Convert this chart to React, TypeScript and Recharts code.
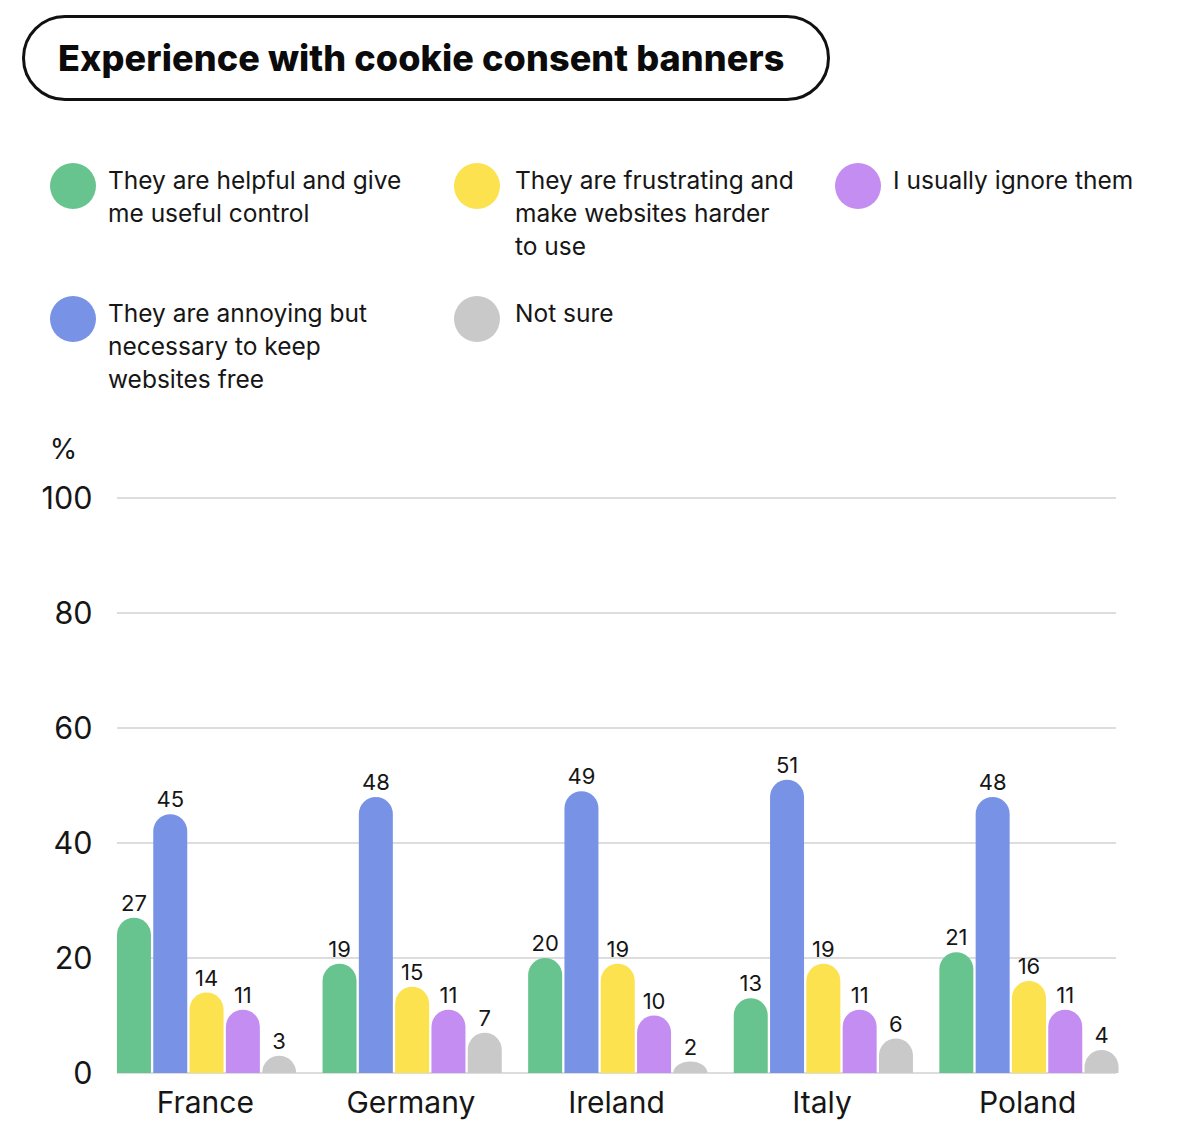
import { BarChart, Bar, XAxis, YAxis, CartesianGrid, Legend, LabelList } from "recharts";

const countries = ["France", "Germany", "Ireland", "Italy", "Poland"];

const helpful = [27, 19, 20, 13, 21];
const necessary = [45, 48, 49, 51, 48];
const frustrating = [14, 15, 19, 19, 16];
const ignore = [11, 11, 10, 11, 11];
const notSure = [3, 7, 2, 6, 4];

const yTicks = [0, 20, 40, 60, 80, 100];

const series = [
  { key: "helpful", label: "They are helpful and give\nme useful control", color: "#68c48e", values: helpful },
  { key: "necessary", label: "They are annoying but\nnecessary to keep\nwebsites free", color: "#7892e6", values: necessary },
  { key: "frustrating", label: "They are frustrating and\nmake websites harder\nto use", color: "#fbe24e", values: frustrating },
  { key: "ignore", label: "I usually ignore them", color: "#c38df1", values: ignore },
  { key: "notSure", label: "Not sure", color: "#c9c9c9", values: notSure },
];

// legend reads down each column (two rows)
const legendOrder = ["helpful", "necessary", "frustrating", "notSure", "ignore"];

const data = countries.map((country, i) => {
  const row: Record<string, string | number> = { country };
  series.forEach((s) => {
    row[s.key] = s.values[i];
  });
  return row;
});

const FONT = "Inter, 'Noto Sans', sans-serif";
const INK = "#161616";

const columnWidths = [404, 381, 330];

function renderLegend(props: any) {
  const payload = [...(props.payload || [])].sort(
    (a: any, b: any) => legendOrder.indexOf(a.dataKey) - legendOrder.indexOf(b.dataKey)
  );
  return (
    <div
      style={{
        display: "grid",
        gridAutoFlow: "column",
        gridTemplateRows: "133px 120px",
        gridTemplateColumns: columnWidths.map((w) => `${w}px`).join(" "),
        fontFamily: FONT,
      }}
    >
      {payload.map((entry: any, i: number) => (
        <div key={entry.dataKey} style={{ display: "flex", alignItems: "flex-start" }}>
          <span
            style={{
              width: 46,
              height: 46,
              borderRadius: "50%",
              background: entry.color,
              flex: "none",
            }}
          />
          <span
            style={{
              marginLeft: i === 2 || i === 3 ? 15 : 12,
              fontSize: 24.5,
              lineHeight: "33px",
              color: INK,
              whiteSpace: "pre",
              marginTop: 1,
            }}
          >
            {entry.value}
          </span>
        </div>
      ))}
    </div>
  );
}

function insetGridLine(props: any) {
  const { x1, x2, y1, y2, key } = props;
  return (
    <line
      key={key}
      x1={x1 + 14.5}
      x2={x2 - 14.5}
      y1={y1}
      y2={y2}
      stroke="#d2d2d2"
      strokeWidth={1.3}
    />
  );
}

// rounded cap; squashes into a dome when the bar is shorter than half its width
function PillBar(props: any) {
  const { x, y, width, height, fill } = props;
  if (!height || height <= 0) return null;
  const r = width / 2;
  const ry = Math.min(r, height);
  const d = `M${x},${y + height} L${x},${y + ry} A${r},${ry} 0 0 1 ${x + width},${y + ry} L${x + width},${y + height} Z`;
  return <path d={d} fill={fill} />;
}

export default function App() {
  return (
    <div style={{ position: "absolute", left: 0, top: 0, width: 1200, height: 1148, background: "#fff" }}>
      <div
        style={{
          position: "absolute",
          left: 22,
          top: 15,
          width: 808,
          height: 86,
          boxSizing: "border-box",
          border: "3px solid #111",
          borderRadius: 44,
          paddingLeft: 33,
          display: "flex",
          alignItems: "center",
          fontFamily: FONT,
          fontWeight: 800,
          fontSize: 36,
          letterSpacing: 0.1,
          color: "#0b0b0b",
        }}
      >
        Experience with cookie consent banners
      </div>
      <BarChart
        width={1200}
        height={1148}
        data={data}
        margin={{ top: 498, right: 69.5, bottom: 15, left: 42.5 }}
        barCategoryGap={14.45}
        barGap={2.3}
      >
        <CartesianGrid vertical={false} horizontal={insetGridLine} />
        <XAxis
          dataKey="country"
          axisLine={false}
          tickLine={false}
          tickSize={0}
          tickMargin={19}
          height={60}
          tick={{ fontSize: 30, fill: INK, fontFamily: FONT }}
        />
        <YAxis
          domain={[0, 100]}
          ticks={yTicks}
          axisLine={false}
          tickLine={false}
          tickSize={0}
          tickMargin={10}
          width={60}
          tick={{ fontSize: 30.5, fill: INK, fontFamily: FONT }}
          label={{ value: "%", position: "top", offset: 39, dx: -9, fontSize: 28, fill: INK, fontFamily: FONT }}
        />
        <Legend
          layout="horizontal"
          verticalAlign="middle"
          align="center"
          content={renderLegend}
          wrapperStyle={{ top: 163, left: 50, width: 1150, height: 260 }}
        />
        {series.map((s) => (
          <Bar
            key={s.key}
            dataKey={s.key}
            name={s.label}
            fill={s.color}
            shape={PillBar}
            isAnimationActive={false}
          >
            <LabelList
              dataKey={s.key}
              position="top"
              offset={7}
              style={{ fontSize: 22, fill: INK, fontFamily: FONT }}
            />
          </Bar>
        ))}
      </BarChart>
    </div>
  );
}
